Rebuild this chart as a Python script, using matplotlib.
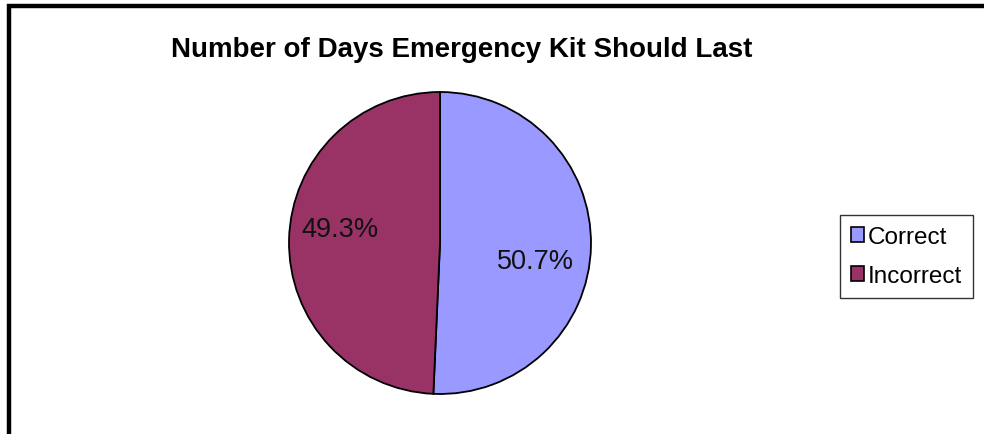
import matplotlib.pyplot as plt
from matplotlib.lines import Line2D
from matplotlib.patches import Patch

# Survey answers: how many days an emergency kit should last
categories = ["Correct", "Incorrect"]
shares = [50.7, 49.3]
slice_colors = ["#9999FF", "#993366"]

W, H = 984, 435
fig = plt.figure(figsize=(W / 100, H / 100), dpi=100)
fig.patch.set_facecolor("white")

# thick black frame along the top and left edges
fig.add_artist(Line2D([9 / W, 9 / W], [0, 1 - 5 / H], color="black", lw=3.2,
                      solid_capstyle="butt"))
fig.add_artist(Line2D([7 / W, 1], [1 - 7 / H, 1 - 7 / H], color="black", lw=3.2,
                      solid_capstyle="butt"))

fig.text(462 / W, 1 - 50 / H, "Number of Days Emergency Kit Should Last",
         ha="center", va="center", fontsize=20, fontweight="bold",
         family="Liberation Sans")

# pie centred at (440, 244) px, radius 152 px
cx, cy, r = 440, 244, 152.5
ax = fig.add_axes([(cx - r) / W, (H - cy - r) / H, 2 * r / W, 2 * r / H])
wedges, texts, autotexts = ax.pie(
    shares, colors=slice_colors, startangle=90, counterclock=False,
    autopct="%.1f%%", pctdistance=0.67,
    wedgeprops=dict(edgecolor="black", linewidth=1.3),
    textprops=dict(fontsize=19.5, family="Liberation Sans", color="#111111"))
ax.set_xlim(-1.01, 1.01)
ax.set_ylim(-1.01, 1.01)
ax.set_aspect("equal")
ax.axis("off")

# nudge the percentage labels the way the spreadsheet placed them
autotexts[0].set_position((0.63, -0.12))
autotexts[1].set_position((-0.66, 0.09))

handles = [Patch(facecolor=c, edgecolor="black", linewidth=1.2) for c in slice_colors]
leg = fig.legend(handles, categories, loc="center",
                 bbox_to_anchor=(906.5 / W, 1 - 257.5 / H),
                 prop=dict(family="Liberation Sans", size=17.5),
                 frameon=True, fancybox=False, edgecolor="black",
                 handlelength=0.55, handleheight=0.55, handletextpad=0.15,
                 labelspacing=0.7, borderpad=0.45, borderaxespad=0)
leg.get_frame().set_linewidth(1.0)

fig.savefig("out.png", dpi=100)
